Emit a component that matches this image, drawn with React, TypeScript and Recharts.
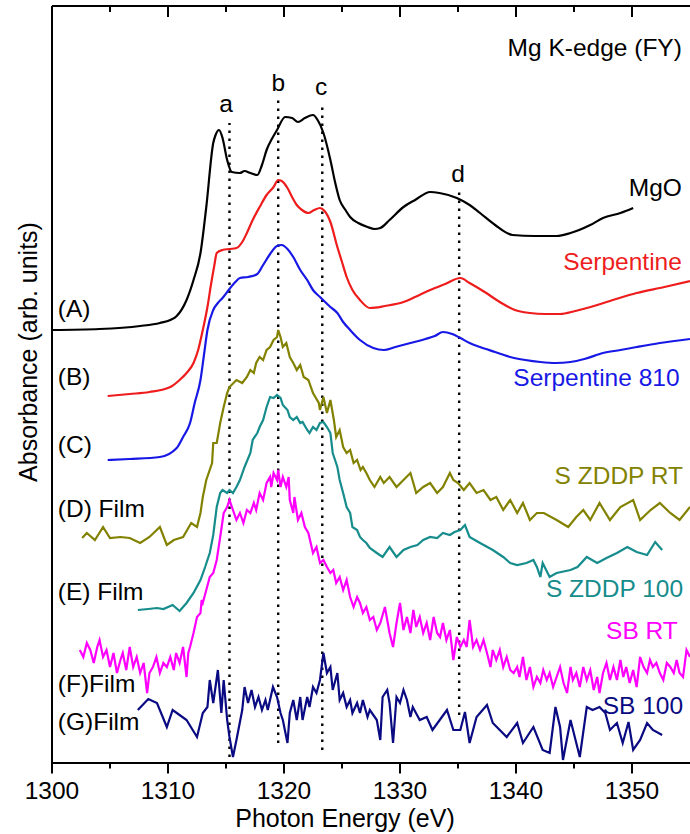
import React from 'react';
import { LineChart, Line, XAxis, YAxis, ReferenceLine, ReferenceDot } from 'recharts';

type P = [number, number];

// Photon energy (eV) vs absorbance (arb. units, offset stacked)
const mgo: P[] = [[1300,433],[1304.1,434],[1307.6,437],[1309.3,440],[1310.2,443],[1310.75,447],[1311.6,463],[1312.2,483],[1312.8,510],[1313.3,556],[1313.9,620],[1314.1,628],[1314.4,633],[1314.7,625],[1315.1,603],[1315.5,591],[1316.2,590],[1316.6,592],[1317.1,590],[1317.7,588],[1318.1,598],[1318.5,613],[1319.0,625],[1319.4,633],[1320.1,646],[1320.7,645],[1321.2,641],[1321.8,645],[1322.5,648],[1322.9,643],[1323.4,630],[1324.0,603],[1324.4,581],[1324.8,563],[1325.3,553],[1325.7,546],[1326.4,540],[1327.2,536],[1327.8,534],[1328.3,535],[1329.1,543],[1330.3,556],[1331.3,563],[1332.6,571],[1333.4,570],[1334.9,565],[1336.0,558],[1336.9,550],[1338.2,538],[1339.7,528],[1341.6,527],[1343.5,527],[1344.7,530],[1346.4,538],[1347.5,545],[1349.0,550],[1350.1,555]];

const serpentine: P[] = [[1304.8,367],[1306.7,369],[1308.4,371],[1310.2,376],[1311.0,383],[1311.6,390],[1312.2,400],[1312.6,413],[1313.0,433],[1313.4,456],[1313.7,478],[1314.0,498],[1314.2,510],[1314.7,513],[1315.3,514],[1315.9,515],[1316.4,521],[1316.8,530],[1317.3,543],[1317.9,556],[1318.5,568],[1319.1,576],[1319.5,583],[1319.8,582],[1320.3,575],[1320.7,566],[1321.1,558],[1321.55,553],[1322.1,550],[1322.6,553],[1323.1,555],[1323.5,552],[1324.0,541],[1324.6,516],[1325.0,501],[1325.4,486],[1325.9,473],[1326.55,463],[1327.4,455],[1328.7,457],[1330.3,461],[1331.3,466],[1332.6,473],[1333.9,479],[1335.2,485],[1336.0,480],[1337.3,471],[1338.6,461],[1339.9,453],[1341.2,450],[1342.5,449],[1343.8,449],[1345.1,452],[1346.1,455],[1348.1,462],[1350.4,470],[1352.8,476],[1355.0,482]];

const serpentine810: P[] = [[1304.8,303],[1306.7,304],[1309.3,306],[1310.75,315],[1311.3,326],[1311.9,340],[1312.3,360],[1312.8,383],[1313.1,408],[1313.4,433],[1313.9,453],[1314.3,460],[1314.7,465],[1315.3,474],[1315.8,481],[1316.2,485],[1316.9,486],[1317.7,489],[1318.2,498],[1318.8,509],[1319.4,517],[1319.8,518],[1320.3,514],[1320.8,506],[1321.4,493],[1322.0,483],[1322.5,473],[1323.1,466],[1324.0,456],[1324.6,450],[1325.1,441],[1325.7,433],[1326.55,423],[1327.7,415],[1328.6,413],[1329.6,416],[1330.9,420],[1332.2,424],[1333.0,427],[1333.7,431],[1334.5,429],[1335.2,425],[1336.0,420],[1336.9,416],[1338.2,411],[1339.5,406],[1340.8,403],[1342.1,401],[1343.4,400],[1344.7,401],[1345.9,404],[1347.5,410],[1349.0,413],[1350.4,416],[1352.4,420],[1355.0,424]];

const sZddpRT: P[] = [[1302.6,225],[1303.0,230],[1303.7,223],[1304.4,236],[1305.0,225],[1305.9,226],[1306.7,225],[1307.6,220],[1308.4,226],[1309.3,236],[1309.9,218],[1310.5,223],[1311.3,226],[1312.0,240],[1312.5,236],[1312.8,250],[1313.0,266],[1313.3,283],[1313.8,300],[1313.9,320],[1314.2,320],[1314.5,340],[1314.8,356],[1315.1,370],[1315.3,376],[1315.9,383],[1316.4,380],[1316.8,386],[1317.1,393],[1317.4,390],[1317.6,400],[1317.9,406],[1318.2,403],[1318.5,413],[1318.8,416],[1319.1,423],[1319.4,426],[1319.5,433],[1319.7,426],[1319.9,416],[1320.2,420],[1320.5,406],[1320.8,400],[1321.1,393],[1321.4,398],[1321.7,386],[1322.1,383],[1322.5,370],[1323.0,360],[1323.1,353],[1323.4,366],[1323.7,350],[1324.0,363],[1324.3,343],[1324.5,326],[1324.8,333],[1325.1,316],[1325.4,310],[1325.7,313],[1326.0,300],[1326.3,303],[1326.6,293],[1326.8,296],[1327.1,290],[1327.4,283],[1327.8,276],[1328.3,286],[1328.6,280],[1329.1,286],[1329.7,276],[1330.3,283],[1330.9,290],[1331.4,270],[1332.0,276],[1332.6,280],[1333.2,270],[1333.7,276],[1334.3,290],[1334.6,283],[1335.0,280],[1335.5,273],[1336.0,280],[1336.6,270],[1337.2,273],[1337.8,263],[1338.3,266],[1338.9,253],[1339.5,263],[1340.1,250],[1340.6,260],[1341.2,243],[1341.8,250],[1342.4,250],[1343.5,243],[1344.5,236],[1345.2,246],[1345.8,253],[1346.4,243],[1347.2,260],[1348.1,243],[1349.0,256],[1350.1,263],[1350.7,243],[1351.6,253],[1352.4,260],[1353.3,250],[1354.1,243],[1355.0,256]];

const sZddp100: P[] = [[1307.4,153],[1308.3,154],[1309.05,155],[1309.6,154],[1310.4,158],[1311.0,152],[1311.6,160],[1312.2,170],[1312.8,183],[1313.2,196],[1313.6,210],[1313.9,228],[1314.2,256],[1314.5,270],[1314.7,273],[1315.1,270],[1315.3,273],[1315.6,270],[1315.9,276],[1316.2,283],[1316.6,296],[1317.1,310],[1317.3,323],[1317.7,330],[1317.9,336],[1318.2,343],[1318.5,356],[1318.8,366],[1319.1,365],[1319.4,368],[1319.7,365],[1319.9,358],[1320.3,353],[1320.5,346],[1320.8,343],[1321.1,346],[1321.4,340],[1321.6,341],[1322.0,333],[1322.2,330],[1322.5,336],[1322.8,333],[1323.1,340],[1323.4,341],[1323.7,336],[1324.0,330],[1324.2,310],[1324.6,296],[1324.8,283],[1325.1,270],[1325.4,256],[1325.7,250],[1325.9,236],[1326.3,233],[1326.55,226],[1326.8,223],[1327.1,220],[1327.4,215],[1328.0,210],[1328.5,206],[1329.1,216],[1329.7,206],[1330.3,213],[1330.9,216],[1331.5,218],[1332.0,223],[1332.6,226],[1333.2,225],[1333.7,230],[1334.3,228],[1334.7,231],[1335.2,233],[1335.6,238],[1336.0,226],[1336.9,220],[1338.0,213],[1338.9,206],[1339.5,200],[1340.1,198],[1340.9,200],[1341.5,203],[1341.8,196],[1342.1,186],[1342.3,200],[1342.9,186],[1343.5,190],[1344.7,193],[1345.3,196],[1346.1,206],[1347.0,200],[1347.8,205],[1348.7,210],[1349.6,216],[1350.4,211],[1351.3,208],[1352.0,221],[1352.6,213]];

const sbRT: P[] = [[1302.4,113],[1302.7,106],[1303.0,120],[1303.3,113],[1303.6,100],[1303.9,116],[1304.1,123],[1304.4,106],[1304.7,113],[1305.0,96],[1305.3,110],[1305.6,90],[1305.9,103],[1306.1,110],[1306.4,93],[1306.7,116],[1307.0,96],[1307.3,106],[1307.6,90],[1307.9,100],[1308.2,70],[1308.4,90],[1308.7,96],[1309.0,106],[1309.3,90],[1309.6,100],[1309.9,96],[1310.2,106],[1310.5,93],[1310.7,110],[1311.0,100],[1311.3,116],[1311.6,86],[1311.75,110],[1311.9,116],[1312.2,130],[1312.5,146],[1312.8,150],[1312.9,163],[1313.0,160],[1313.3,173],[1313.6,186],[1313.9,190],[1314.2,203],[1314.5,226],[1314.8,250],[1315.1,256],[1315.3,263],[1315.6,253],[1315.9,243],[1316.2,250],[1316.5,240],[1316.8,253],[1317.1,250],[1317.4,260],[1317.6,253],[1317.9,270],[1318.2,263],[1318.5,280],[1318.8,286],[1318.9,276],[1319.1,290],[1319.4,283],[1319.5,293],[1319.7,276],[1319.9,286],[1320.2,276],[1320.4,286],[1320.5,263],[1320.8,250],[1320.9,266],[1321.2,243],[1321.5,250],[1321.8,236],[1322.1,230],[1322.5,210],[1322.8,216],[1323.1,200],[1323.4,203],[1323.7,196],[1324.0,190],[1324.25,193],[1324.5,180],[1324.8,186],[1325.1,173],[1325.4,183],[1325.7,166],[1326.0,156],[1326.3,166],[1326.55,160],[1326.8,150],[1327.1,156],[1327.4,143],[1327.7,146],[1328.0,133],[1328.3,140],[1328.7,156],[1329.1,130],[1329.4,116],[1329.7,140],[1330.0,160],[1330.3,133],[1330.6,146],[1330.9,130],[1331.15,153],[1331.4,136],[1331.7,146],[1332.0,130],[1332.3,140],[1332.6,123],[1332.9,146],[1333.2,130],[1333.45,126],[1333.7,140],[1334.0,123],[1334.3,133],[1334.6,103],[1334.9,126],[1335.2,116],[1335.5,123],[1335.75,116],[1336.0,143],[1336.3,116],[1336.6,123],[1336.9,113],[1337.2,123],[1337.5,110],[1337.8,96],[1338.0,113],[1338.3,103],[1338.6,113],[1338.9,96],[1339.2,106],[1339.5,93],[1339.8,90],[1340.1,96],[1340.3,86],[1340.6,106],[1340.9,83],[1341.2,96],[1341.5,76],[1341.8,86],[1342.1,80],[1342.35,93],[1342.65,83],[1342.9,90],[1343.2,76],[1343.5,86],[1343.8,96],[1344.1,80],[1344.4,70],[1344.7,96],[1344.9,83],[1345.2,90],[1345.5,76],[1345.8,96],[1346.1,83],[1346.4,93],[1346.7,73],[1347.0,86],[1347.2,70],[1347.5,90],[1347.8,100],[1348.1,83],[1348.4,96],[1348.7,83],[1349.0,103],[1349.25,86],[1349.5,96],[1349.8,80],[1350.1,93],[1350.4,76],[1350.7,106],[1351.0,96],[1351.3,90],[1351.55,103],[1351.8,96],[1352.1,100],[1352.4,90],[1352.7,83],[1353.0,100],[1353.3,96],[1353.6,90],[1353.85,103],[1354.1,90],[1354.4,86],[1354.7,113],[1355.0,106]];

const sb100: P[] = [[1307.4,53],[1308.3,64],[1309.05,60],[1309.9,36],[1310.4,53],[1311.0,48],[1311.6,43],[1312.5,26],[1313.0,50],[1313.4,56],[1313.6,83],[1313.9,60],[1314.3,93],[1314.6,50],[1314.8,83],[1315.1,43],[1315.3,26],[1315.6,6],[1315.9,23],[1316.4,53],[1316.6,76],[1316.9,60],[1317.2,73],[1317.5,56],[1317.8,66],[1318.1,53],[1318.4,63],[1318.6,53],[1319.05,76],[1319.4,66],[1319.7,50],[1319.9,43],[1320.3,20],[1320.5,50],[1320.8,63],[1321.1,43],[1321.4,66],[1321.6,43],[1322.0,66],[1322.2,56],[1322.5,76],[1322.8,70],[1323.1,83],[1323.4,110],[1323.7,90],[1324.0,96],[1324.2,73],[1324.6,90],[1324.8,63],[1325.1,70],[1325.4,56],[1325.7,63],[1325.9,50],[1326.3,60],[1326.55,50],[1326.8,63],[1327.2,46],[1327.4,53],[1328.0,43],[1328.3,23],[1328.5,66],[1328.9,73],[1329.1,60],[1329.4,20],[1329.7,66],[1330.0,60],[1330.3,73],[1330.6,63],[1330.9,46],[1331.1,56],[1331.7,43],[1332.3,46],[1332.8,33],[1334.05,53],[1334.6,33],[1335.2,33],[1335.6,51],[1336.0,20],[1336.6,46],[1337.5,58],[1338.0,40],[1339.2,26],[1340.1,40],[1340.6,20],[1341.5,36],[1342.3,13],[1342.9,10],[1343.4,56],[1343.8,36],[1344.05,3],[1344.7,43],[1345.5,6],[1346.1,56],[1346.6,53],[1347.2,56],[1347.7,50],[1348.1,33],[1348.7,40],[1349.2,20],[1349.7,41],[1350.1,13],[1350.7,23],[1351.3,40],[1351.8,33],[1352.6,28]];

// feature markers (energies) and their extent
const featureEnergies = [1315.3, 1319.5, 1323.3, 1335.1];
const featureTop = [640, 663, 658, 573];
const featureBottom = [6, 20, 13, 48];

const xTicks = [1300, 1305, 1310, 1315, 1320, 1325, 1330, 1335, 1340, 1345, 1350];
const Y_MAX = 757;

// layout
const CHART_W = 690;
const CHART_H = 834;
const M_TOP = 6;
const X_AXIS_H = 71;
const Y_AXIS_W = 52;
const PLOT_BOTTOM = CHART_H - X_AXIS_H;

const FONT = '"Liberation Sans", Arial, Helvetica, sans-serif';
const FS = 24.5;
const TITLE_FS = 25;
const AX_W = 2;

const rows = (pts: P[]) => pts.map(([e, v]) => ({ e, v }));

const seriesDefs = [
  { key: 'mgo', pts: mgo, color: '#000000', smooth: true },
  { key: 'serp', pts: serpentine, color: '#ee1c1c', smooth: true },
  { key: 'serp810', pts: serpentine810, color: '#1818e6', smooth: true },
  { key: 'zrt', pts: sZddpRT, color: '#828200', smooth: false },
  { key: 'z100', pts: sZddp100, color: '#168c8c', smooth: false },
  { key: 'sbrt', pts: sbRT, color: '#ff00ff', smooth: false },
  { key: 'sb100', pts: sb100, color: '#0a0a82', smooth: false },
];

// text annotations: [text, energy, height, color, anchor]
const annotations: [string, number, number, string, string][] = [
  ['Mg K-edge (FY)', 1354.3, 716, '#000000', 'end'],
  ['MgO', 1354.3, 576, '#000000', 'end'],
  ['Serpentine', 1354.3, 502, '#ee1c1c', 'end'],
  ['Serpentine 810', 1354.1, 386, '#1818e6', 'end'],
  ['S ZDDP RT', 1354.4, 288, '#828200', 'end'],
  ['S ZDDP 100', 1354.4, 175, '#168c8c', 'end'],
  ['SB RT', 1353.95, 133, '#ff00ff', 'end'],
  ['SB 100', 1354.4, 58, '#0a0a82', 'end'],
  ['(A)', 1300.5, 455, '#000000', 'start'],
  ['(B)', 1300.5, 387, '#000000', 'start'],
  ['(C)', 1300.5, 319, '#000000', 'start'],
  ['(D) Film', 1300.5, 255, '#000000', 'start'],
  ['(E) Film', 1300.5, 172, '#000000', 'start'],
  ['(F)Film', 1300.5, 80, '#000000', 'start'],
  ['(G)Film', 1300.5, 42, '#000000', 'start'],
  ['a', 1315.0, 660, '#000000', 'middle'],
  ['b', 1319.5, 681, '#000000', 'middle'],
  ['c', 1323.2, 677, '#000000', 'middle'],
  ['d', 1335.0, 590, '#000000', 'middle'],
];

// bottom tick: outward line (major longer) + label for majors
const BottomTick = (props: any) => {
  const { x, payload } = props;
  const major = payload.value % 10 === 0;
  return (
    <g>
      <line x1={x} x2={x} y1={PLOT_BOTTOM} y2={PLOT_BOTTOM + (major ? 10.5 : 5.5)} stroke="#000" strokeWidth={AX_W} />
      {major && (
        <text x={x} y={PLOT_BOTTOM + 36} textAnchor="middle" fontSize={FS} fontFamily={FONT} fill="#000">
          {payload.value}
        </text>
      )}
    </g>
  );
};

const xTitle = () => (
  <text x={345} y={PLOT_BOTTOM + 64} textAnchor="middle" fontSize={TITLE_FS} fontFamily={FONT} fill="#000">
    Photon Energy (eV)
  </text>
);

const yTitle = () => {
  const cx = 37;
  const cy = 352;
  return (
    <text x={cx} y={cy} transform={`rotate(-90, ${cx}, ${cy})`} textAnchor="middle" fontSize={TITLE_FS} fontFamily={FONT} fill="#000">
      Absorbance (arb. units)
    </text>
  );
};

const textShape = (txt: string, color: string, anchor: string) => (p: any) => (
  <text
    x={p.cx}
    y={p.cy}
    textAnchor={anchor as any}
    dominantBaseline="central"
    fontSize={FS}
    fontFamily={FONT}
    fill={color}
  >
    {txt}
  </text>
);

export default function App() {
  return (
    <div style={{ position: 'absolute', left: 0, top: 0, width: CHART_W, height: CHART_H, background: '#fff' }}>
      <LineChart width={CHART_W} height={CHART_H} margin={{ top: M_TOP, right: 0, bottom: 0, left: 0 }}>
        <XAxis
          xAxisId="bottom"
          dataKey="e"
          type="number"
          domain={[1300, 1355]}
          allowDataOverflow
          ticks={xTicks}
          interval={0}
          height={X_AXIS_H}
          tickLine={false}
          tick={BottomTick}
          axisLine={{ stroke: '#000', strokeWidth: AX_W }}
          label={xTitle}
        />
        <YAxis
          yAxisId="y"
          type="number"
          domain={[0, Y_MAX]}
          allowDataOverflow
          width={Y_AXIS_W}
          tick={false}
          tickLine={false}
          axisLine={{ stroke: '#000', strokeWidth: AX_W }}
          label={yTitle}
        />
        {/* top frame with inward ticks */}
        <ReferenceLine xAxisId="bottom" yAxisId="y" y={Y_MAX} stroke="#000" strokeWidth={AX_W} ifOverflow="visible" />
        {xTicks.map((t) => (
          <ReferenceLine
            key={'tt' + t}
            xAxisId="bottom"
            yAxisId="y"
            segment={[{ x: t, y: Y_MAX }, { x: t, y: Y_MAX - (t % 10 === 0 ? 11 : 6) }]}
            stroke="#000"
            strokeWidth={AX_W}
            ifOverflow="visible"
          />
        ))}
        {featureEnergies.map((e, i) => (
          <ReferenceLine
            key={'f' + i}
            xAxisId="bottom"
            yAxisId="y"
            segment={[{ x: e, y: featureBottom[i] }, { x: e, y: featureTop[i] }]}
            stroke="#000"
            strokeWidth={2.4}
            strokeDasharray="2.4 5.6"
            ifOverflow="visible"
          />
        ))}
        {seriesDefs.map((s) => (
          <Line
            key={s.key}
            xAxisId="bottom"
            yAxisId="y"
            data={rows(s.pts)}
            dataKey="v"
            type={s.smooth ? 'monotone' : 'linear'}
            stroke={s.color}
            strokeWidth={2.2}
            dot={false}
            activeDot={false}
            isAnimationActive={false}
          />
        ))}
        {annotations.map(([txt, e, v, color, anchor], i) => (
          <ReferenceDot
            key={'t' + i}
            xAxisId="bottom"
            yAxisId="y"
            x={e}
            y={v}
            r={0}
            ifOverflow="visible"
            shape={textShape(txt, color, anchor)}
          />
        ))}
      </LineChart>
    </div>
  );
}
